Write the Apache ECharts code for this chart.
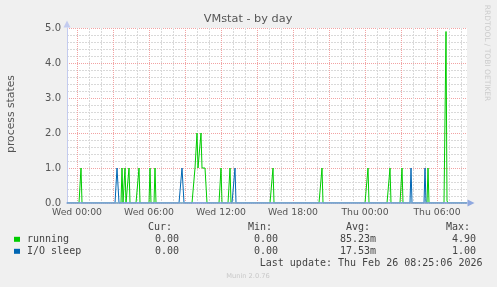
<!DOCTYPE html>
<html><head><meta charset="utf-8">
<script src="https://cdn.jsdelivr.net/npm/echarts@6/dist/echarts.min.js"></script>
<style>html,body{margin:0;padding:0;background:#F0F0F0}#c{width:497px;height:287px}</style>
</head><body><div id="c"></div>
<script>
// ---- data ----
const titleText = 'VMstat - by day';
const yAxisName = 'process states';
const seriesNames = ['running', 'I/O sleep'];
const seriesColors = ['#00CC00', '#0066B3'];
const startTime = 'Tue 23:10';   // first sample
const endTime = 'Thu 08:30';     // last sample
const stepMinutes = 5;
const xTickLabels = ['Wed 00:00', 'Wed 06:00', 'Wed 12:00', 'Wed 18:00', 'Thu 00:00', 'Thu 06:00'];
const yTicks = [0, 1, 2, 3, 4, 5];
// non-zero samples (all others are 0)
const runningSamples = [
  ['Wed 00:20', 1], ['Wed 03:45', 1], ['Wed 04:00', 1], ['Wed 04:20', 1], ['Wed 05:10', 1],
  ['Wed 06:05', 1], ['Wed 06:30', 1],
  ['Wed 09:50', 1], ['Wed 09:55', 1], ['Wed 10:00', 2], ['Wed 10:05', 1], ['Wed 10:10', 1],
  ['Wed 10:15', 1], ['Wed 10:20', 2], ['Wed 10:25', 1], ['Wed 10:30', 1], ['Wed 10:35', 1],
  ['Wed 10:40', 1], ['Wed 10:45', 1],
  ['Wed 12:00', 1], ['Wed 12:45', 1], ['Wed 16:20', 1], ['Wed 20:25', 1],
  ['Thu 00:15', 1], ['Thu 02:05', 1], ['Thu 03:05', 1], ['Thu 05:15', 1],
  ['Thu 06:45', 4.9], ['Thu 06:50', 0.06]
];
const ioSleepSamples = [
  ['Wed 03:20', 1], ['Wed 03:25', 1], ['Wed 08:45', 1], ['Wed 08:50', 1],
  ['Wed 13:10', 1], ['Thu 03:50', 1], ['Thu 05:00', 1]
];
const statHeaders = ['Cur:', 'Min:', 'Avg:', 'Max:'];
const runningStats = ['0.00', '0.00', '85.23m', '4.90'];
const ioSleepStats = ['0.00', '0.00', '17.53m', '1.00'];
const lastUpdate = 'Last update: Thu Feb 26 08:25:06 2026';
const footer = 'Munin 2.0.76';
const watermark = 'RRDTOOL / TOBI OETIKER';

// ---- build ----
const days = ['Tue', 'Wed', 'Thu'];
function toMin(s) {
  const [d, hm] = s.split(' ');
  const [h, m] = hm.split(':').map(Number);
  return days.indexOf(d) * 1440 + h * 60 + m;
}
function fmt(min) {
  const d = Math.floor(min / 1440), r = min % 1440;
  const h = Math.floor(r / 60), m = r % 60;
  return days[d] + ' ' + String(h).padStart(2, '0') + ':' + String(m).padStart(2, '0');
}
const t0 = toMin(startTime), t1 = toMin(endTime);
const cats = [];
for (let t = t0; t <= t1; t += stepMinutes) cats.push(fmt(t));
function build(samples) {
  const arr = cats.map(() => 0);
  samples.forEach(([t, v]) => { arr[cats.indexOf(t)] = v; });
  return arr;
}
const runningData = build(runningSamples);
const ioData = build(ioSleepSamples);
const isHour = i => toMin(cats[i]) % 60 === 0;
const isMajor = i => toMin(cats[i]) % 180 === 0;
const isLabel = i => xTickLabels.indexOf(cats[i]) >= 0;

const FONT = 'DejaVu Sans';
const MONO = 'DejaVu Sans Mono';
const redGrid = { color: '#f2a3a3', width: 1, type: [1, 1] };
const grayGrid = { color: '#d9d9d9', width: 1, type: [2, 1] };
const axisCol = '#c3cbef';

const chart = echarts.init(document.getElementById('c'), null, { renderer: 'canvas' });
const legendText = (y, name, color, stats) => [
  { type: 'rect', shape: { x: 14, y: y - 2.5, width: 6, height: 5 }, style: { fill: color } },
  { type: 'text', style: { x: 27, y: y, text: name, font: '10px ' + MONO, fill: '#444', verticalAlign: 'middle' } },
  ...stats.map((s, k) => ({ type: 'text', style: { x: [179, 278, 376, 476][k], y: y, text: s, font: '10px ' + MONO, fill: '#444', align: 'right', verticalAlign: 'middle' } }))
];
chart.setOption({
  animation: false,
  backgroundColor: '#F0F0F0',
  grid: { left: 67, top: 28, width: 400, height: 175, show: true, backgroundColor: '#FFFFFF', borderWidth: 0 },
  xAxis: [{
    type: 'category', data: cats, boundaryGap: false,
    axisLine: { show: false },
    axisTick: { show: false },
    axisLabel: { interval: (i) => isLabel(i), formatter: (v) => v, color: '#555', fontFamily: FONT, fontSize: 9.3, margin: 5 },
    splitLine: { show: true, interval: (i) => isMajor(i), lineStyle: redGrid },
    z: 1
  }, {
    type: 'category', data: cats, boundaryGap: false, position: 'bottom',
    axisLine: { show: false }, axisTick: { show: false }, axisLabel: { show: false },
    splitLine: { show: true, interval: (i) => isHour(i) && !isMajor(i), lineStyle: grayGrid },
    z: 0
  }, {
    type: 'category', data: cats, boundaryGap: false, position: 'bottom',
    axisLine: { show: true, lineStyle: { color: '#8fa8e0', width: 1.5 }, symbol: ['none', 'triangle'], symbolSize: [7, 7], symbolOffset: [0, 4] },
    axisTick: { show: false }, axisLabel: { show: false }, splitLine: { show: false },
    z: 10
  }],
  yAxis: {
    type: 'value', min: yTicks[0], max: yTicks[yTicks.length - 1], interval: 1,
    axisLine: { show: true, lineStyle: { color: axisCol, width: 1 }, symbol: ['none', 'triangle'], symbolSize: [7, 7], symbolOffset: [0, 4] },
    axisTick: { show: false },
    axisLabel: { formatter: (v) => v.toFixed(1), color: '#555', fontFamily: FONT, fontSize: 10, margin: 6 },
    splitLine: { show: true, lineStyle: redGrid },
    minorTick: { show: false, splitNumber: 5 },
    minorSplitLine: { show: true, lineStyle: grayGrid }
  },
  series: [
    { name: seriesNames[0], type: 'line', data: runningData, showSymbol: false, symbol: 'none', lineStyle: { color: seriesColors[0], width: 1 }, itemStyle: { color: seriesColors[0] }, z: 3 },
    { name: seriesNames[1], type: 'line', data: ioData, showSymbol: false, symbol: 'none', lineStyle: { color: seriesColors[1], width: 1 }, itemStyle: { color: seriesColors[1] }, z: 4 }
  ],
  graphic: [
    { type: 'text', style: { x: 248, y: 19, text: titleText, font: '11.3px ' + FONT, fill: '#555', align: 'center', verticalAlign: 'middle' } },
    { type: 'text', x: 11, y: 114, rotation: Math.PI / 2, style: { x: 0, y: 0, text: yAxisName, font: '10.8px ' + FONT, fill: '#555', align: 'center', verticalAlign: 'middle' } },
    { type: 'text', x: 487, y: 53, rotation: -Math.PI / 2, style: { x: 0, y: 0, text: watermark, font: '7.5px ' + FONT, fill: '#cccccc', align: 'center', verticalAlign: 'middle' } },
    ...statHeaders.map((s, k) => ({ type: 'text', style: { x: [172, 272, 370, 470][k], y: 227.7, text: s, font: '10px ' + MONO, fill: '#444', align: 'right', verticalAlign: 'middle' } })),
    ...legendText(239.3, seriesNames[0], seriesColors[0], runningStats),
    ...legendText(251.3, seriesNames[1], seriesColors[1], ioSleepStats),
    { type: 'text', style: { x: 482.5, y: 263.3, text: lastUpdate, font: '10px ' + MONO, fill: '#444', align: 'right', verticalAlign: 'middle' } },
    { type: 'text', style: { x: 248, y: 276.7, text: footer, font: '6.7px ' + FONT, fill: '#c8c8c8', align: 'center', verticalAlign: 'middle' } }
  ]
});
</script>
</body></html>
